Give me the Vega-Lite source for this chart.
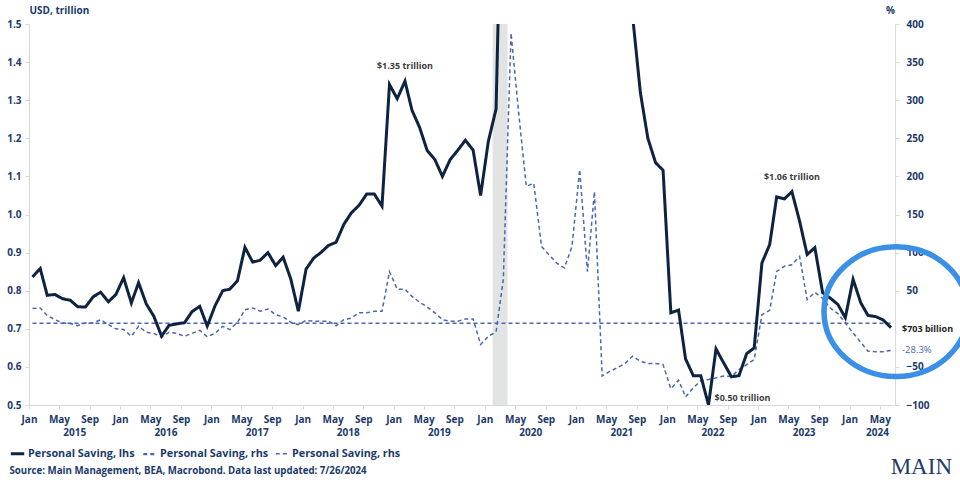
{
  "$schema": "https://vega.github.io/schema/vega-lite/v6.json",
  "width": 866,
  "height": 381,
  "autosize": {"type": "none"},
  "padding": {"left": 29, "top": 24, "right": 65, "bottom": 77},
  "background": "white",
  "title": {
    "text": "MAIN",
    "orient": "bottom",
    "anchor": "end",
    "frame": "group",
    "font": "Liberation Serif",
    "fontSize": 23,
    "fontWeight": "normal",
    "color": "#213a6b",
    "offset": 0,
    "dx": 57,
    "dy": -19
  },
  "config": {
    "font": "Open Sans",
    "view": {"stroke": null},
    "axis": {
      "labelFont": "Open Sans",
      "labelFontWeight": "bold",
      "labelFontSize": 10,
      "labelColor": "#213a6b",
      "labelOverlap": false,
      "domainColor": "#d9d9d9",
      "tickColor": "#d9d9d9",
      "tickSize": 4,
      "grid": false,
      "labelFlush": false,
      "titleFont": "Open Sans",
      "titleFontWeight": "bold",
      "titleColor": "#213a6b",
      "titleFontSize": 10
    },
    "axisX": {"labelOverlap": false},
    "axisY": {"labelOverlap": false},
    "legend": {
      "orient": "none",
      "legendX": -20,
      "legendY": 421,
      "direction": "horizontal",
      "title": null,
      "labelFont": "Open Sans",
      "labelFontWeight": "bold",
      "labelFontSize": 10.8,
      "labelColor": "#213a6b",
      "symbolType": "stroke",
      "symbolSize": 180,
      "labelOffset": 2,
      "columnPadding": 3
    }
  },
  "datasets": {
    "saving": [
      {"date": "2015-01-15", "lhs": 0.836, "rhs": 26.5},
      {"date": "2015-02-15", "lhs": 0.858, "rhs": 27.4},
      {"date": "2015-03-15", "lhs": 0.788, "rhs": 17.3},
      {"date": "2015-04-15", "lhs": 0.790, "rhs": 12},
      {"date": "2015-05-15", "lhs": 0.779, "rhs": 7.7},
      {"date": "2015-06-15", "lhs": 0.775, "rhs": 7},
      {"date": "2015-07-15", "lhs": 0.758, "rhs": 4.2},
      {"date": "2015-08-15", "lhs": 0.757, "rhs": 7.7},
      {"date": "2015-09-15", "lhs": 0.784, "rhs": 7.7},
      {"date": "2015-10-15", "lhs": 0.796, "rhs": 12},
      {"date": "2015-11-15", "lhs": 0.771, "rhs": 5.5},
      {"date": "2015-12-15", "lhs": 0.790, "rhs": 0},
      {"date": "2016-01-15", "lhs": 0.834, "rhs": -1},
      {"date": "2016-02-15", "lhs": 0.768, "rhs": -9.8},
      {"date": "2016-03-15", "lhs": 0.821, "rhs": 3.3},
      {"date": "2016-04-15", "lhs": 0.765, "rhs": -4.6},
      {"date": "2016-05-15", "lhs": 0.733, "rhs": -6},
      {"date": "2016-06-15", "lhs": 0.681, "rhs": -11},
      {"date": "2016-07-15", "lhs": 0.709, "rhs": -4.6},
      {"date": "2016-08-15", "lhs": 0.713, "rhs": -6},
      {"date": "2016-09-15", "lhs": 0.716, "rhs": -9.8},
      {"date": "2016-10-15", "lhs": 0.745, "rhs": -6},
      {"date": "2016-11-15", "lhs": 0.759, "rhs": -2},
      {"date": "2016-12-15", "lhs": 0.707, "rhs": -10.5},
      {"date": "2017-01-15", "lhs": 0.760, "rhs": -6},
      {"date": "2017-02-15", "lhs": 0.800, "rhs": 3.3},
      {"date": "2017-03-15", "lhs": 0.804, "rhs": -1},
      {"date": "2017-04-15", "lhs": 0.826, "rhs": 8.5},
      {"date": "2017-05-15", "lhs": 0.914, "rhs": 25},
      {"date": "2017-06-15", "lhs": 0.875, "rhs": 27.4},
      {"date": "2017-07-15", "lhs": 0.880, "rhs": 23},
      {"date": "2017-08-15", "lhs": 0.900, "rhs": 26},
      {"date": "2017-09-15", "lhs": 0.866, "rhs": 18.6},
      {"date": "2017-10-15", "lhs": 0.888, "rhs": 15.6},
      {"date": "2017-11-15", "lhs": 0.830, "rhs": 8.5},
      {"date": "2017-12-15", "lhs": 0.746, "rhs": 5.5},
      {"date": "2018-01-15", "lhs": 0.857, "rhs": 11},
      {"date": "2018-02-15", "lhs": 0.886, "rhs": 10},
      {"date": "2018-03-15", "lhs": 0.900, "rhs": 10},
      {"date": "2018-04-15", "lhs": 0.919, "rhs": 10},
      {"date": "2018-05-15", "lhs": 0.927, "rhs": 4},
      {"date": "2018-06-15", "lhs": 0.974, "rhs": 12},
      {"date": "2018-07-15", "lhs": 1.004, "rhs": 14},
      {"date": "2018-08-15", "lhs": 1.024, "rhs": 21},
      {"date": "2018-09-15", "lhs": 1.054, "rhs": 21},
      {"date": "2018-10-15", "lhs": 1.054, "rhs": 23},
      {"date": "2018-11-15", "lhs": 1.022, "rhs": 23},
      {"date": "2018-12-15", "lhs": 1.341, "rhs": 75},
      {"date": "2019-01-15", "lhs": 1.304, "rhs": 52},
      {"date": "2019-02-15", "lhs": 1.350, "rhs": 52},
      {"date": "2019-03-15", "lhs": 1.274, "rhs": 42.6},
      {"date": "2019-04-15", "lhs": 1.228, "rhs": 34.7},
      {"date": "2019-05-15", "lhs": 1.168, "rhs": 28.7},
      {"date": "2019-06-15", "lhs": 1.144, "rhs": 21},
      {"date": "2019-07-15", "lhs": 1.100, "rhs": 12},
      {"date": "2019-08-15", "lhs": 1.144, "rhs": 10},
      {"date": "2019-09-15", "lhs": 1.169, "rhs": 10},
      {"date": "2019-10-15", "lhs": 1.195, "rhs": 13},
      {"date": "2019-11-15", "lhs": 1.169, "rhs": 13},
      {"date": "2019-12-15", "lhs": 1.050, "rhs": -20.7},
      {"date": "2020-01-15", "lhs": 1.192, "rhs": -9.8},
      {"date": "2020-02-15", "lhs": 1.277, "rhs": -4},
      {"date": "2020-03-15", "lhs": 2.10, "rhs": 65},
      {"date": "2020-04-15", "lhs": 5.99, "rhs": 388},
      {"date": "2020-05-15", "lhs": 4.50, "rhs": 285},
      {"date": "2020-06-15", "lhs": 3.28, "rhs": 187},
      {"date": "2020-07-15", "lhs": 3.20, "rhs": 191},
      {"date": "2020-08-15", "lhs": 2.38, "rhs": 108},
      {"date": "2020-09-15", "lhs": 2.30, "rhs": 97},
      {"date": "2020-10-15", "lhs": 2.22, "rhs": 86},
      {"date": "2020-11-15", "lhs": 2.10, "rhs": 80},
      {"date": "2020-12-15", "lhs": 2.18, "rhs": 108},
      {"date": "2021-01-15", "lhs": 3.68, "rhs": 209},
      {"date": "2021-02-15", "lhs": 2.23, "rhs": 75},
      {"date": "2021-03-15", "lhs": 5.88, "rhs": 180},
      {"date": "2021-04-15", "lhs": 2.28, "rhs": -62},
      {"date": "2021-05-15", "lhs": 1.98, "rhs": -56},
      {"date": "2021-06-15", "lhs": 1.61, "rhs": -51},
      {"date": "2021-07-15", "lhs": 1.74, "rhs": -45.6},
      {"date": "2021-08-15", "lhs": 1.52, "rhs": -36},
      {"date": "2021-09-15", "lhs": 1.320, "rhs": -42.6},
      {"date": "2021-10-15", "lhs": 1.200, "rhs": -45.6},
      {"date": "2021-11-15", "lhs": 1.136, "rhs": -45.6},
      {"date": "2021-12-15", "lhs": 1.116, "rhs": -47},
      {"date": "2022-01-15", "lhs": 0.742, "rhs": -78.8},
      {"date": "2022-02-15", "lhs": 0.749, "rhs": -67.5},
      {"date": "2022-03-15", "lhs": 0.621, "rhs": -89.3},
      {"date": "2022-04-15", "lhs": 0.577, "rhs": -77.5},
      {"date": "2022-05-15", "lhs": 0.577, "rhs": -68},
      {"date": "2022-06-15", "lhs": 0.500, "rhs": -66.6},
      {"date": "2022-07-15", "lhs": 0.647, "rhs": -64.4},
      {"date": "2022-08-15", "lhs": 0.610, "rhs": -62},
      {"date": "2022-09-15", "lhs": 0.574, "rhs": -62.5},
      {"date": "2022-10-15", "lhs": 0.577, "rhs": -53.5},
      {"date": "2022-11-15", "lhs": 0.635, "rhs": -47},
      {"date": "2022-12-15", "lhs": 0.650, "rhs": -40.4},
      {"date": "2023-01-15", "lhs": 0.873, "rhs": 18.6},
      {"date": "2023-02-15", "lhs": 0.921, "rhs": 24.2},
      {"date": "2023-03-15", "lhs": 1.046, "rhs": 75.4},
      {"date": "2023-04-15", "lhs": 1.041, "rhs": 82},
      {"date": "2023-05-15", "lhs": 1.060, "rhs": 84},
      {"date": "2023-06-15", "lhs": 0.982, "rhs": 95},
      {"date": "2023-07-15", "lhs": 0.895, "rhs": 38.3},
      {"date": "2023-08-15", "lhs": 0.913, "rhs": 47.8},
      {"date": "2023-09-15", "lhs": 0.795, "rhs": 40},
      {"date": "2023-10-15", "lhs": 0.781, "rhs": 27.4},
      {"date": "2023-11-15", "lhs": 0.764, "rhs": 20},
      {"date": "2023-12-15", "lhs": 0.729, "rhs": 7.7},
      {"date": "2024-01-15", "lhs": 0.830, "rhs": -5.4},
      {"date": "2024-02-15", "lhs": 0.768, "rhs": -17.7},
      {"date": "2024-03-15", "lhs": 0.735, "rhs": -29.5},
      {"date": "2024-04-15", "lhs": 0.732, "rhs": -30},
      {"date": "2024-05-15", "lhs": 0.723, "rhs": -30},
      {"date": "2024-06-15", "lhs": 0.703, "rhs": -28.3}
    ],
    "average": [
      {"date": "2015-01-15", "rhs": 7.2},
      {"date": "2024-06-15", "rhs": 7.2}
    ],
    "notes": [
      {"date": "2019-02-15", "lhs": 1.35, "label": "$1.35 trillion", "kind": "peak"},
      {"date": "2023-05-15", "lhs": 1.06, "label": "$1.06 trillion", "kind": "peak"},
      {"date": "2022-06-15", "lhs": 0.50, "label": "$0.50 trillion", "kind": "low"},
      {"date": "2024-06-15", "lhs": 0.703, "label": "$703 billion", "kind": "last"},
      {"date": "2024-06-15", "rhs": -28.3, "label": "-28.3%", "kind": "yoy"}
    ],
    "recession": [
      {"date": "2020-02-01", "end": "2020-04-01"}
    ]
  },
  "encoding": {
    "x": {
      "field": "date",
      "type": "temporal",
      "scale": {"type": "utc", "domain": [{"year": 2015, "month": 1, "date": 1, "utc": true}, {"year": 2024, "month": 7, "date": 1, "utc": true}]},
      "axis": {
        "orient": "bottom",
        "values": [
          {"year": 2015, "month": 1, "date": 1, "utc": true}, {"year": 2015, "month": 5, "date": 1, "utc": true}, {"year": 2015, "month": 7, "date": 1, "utc": true}, {"year": 2015, "month": 9, "date": 1, "utc": true},
          {"year": 2016, "month": 1, "date": 1, "utc": true}, {"year": 2016, "month": 5, "date": 1, "utc": true}, {"year": 2016, "month": 7, "date": 1, "utc": true}, {"year": 2016, "month": 9, "date": 1, "utc": true},
          {"year": 2017, "month": 1, "date": 1, "utc": true}, {"year": 2017, "month": 5, "date": 1, "utc": true}, {"year": 2017, "month": 7, "date": 1, "utc": true}, {"year": 2017, "month": 9, "date": 1, "utc": true},
          {"year": 2018, "month": 1, "date": 1, "utc": true}, {"year": 2018, "month": 5, "date": 1, "utc": true}, {"year": 2018, "month": 7, "date": 1, "utc": true}, {"year": 2018, "month": 9, "date": 1, "utc": true},
          {"year": 2019, "month": 1, "date": 1, "utc": true}, {"year": 2019, "month": 5, "date": 1, "utc": true}, {"year": 2019, "month": 7, "date": 1, "utc": true}, {"year": 2019, "month": 9, "date": 1, "utc": true},
          {"year": 2020, "month": 1, "date": 1, "utc": true}, {"year": 2020, "month": 5, "date": 1, "utc": true}, {"year": 2020, "month": 7, "date": 1, "utc": true}, {"year": 2020, "month": 9, "date": 1, "utc": true},
          {"year": 2021, "month": 1, "date": 1, "utc": true}, {"year": 2021, "month": 5, "date": 1, "utc": true}, {"year": 2021, "month": 7, "date": 1, "utc": true}, {"year": 2021, "month": 9, "date": 1, "utc": true},
          {"year": 2022, "month": 1, "date": 1, "utc": true}, {"year": 2022, "month": 5, "date": 1, "utc": true}, {"year": 2022, "month": 7, "date": 1, "utc": true}, {"year": 2022, "month": 9, "date": 1, "utc": true},
          {"year": 2023, "month": 1, "date": 1, "utc": true}, {"year": 2023, "month": 5, "date": 1, "utc": true}, {"year": 2023, "month": 7, "date": 1, "utc": true}, {"year": 2023, "month": 9, "date": 1, "utc": true},
          {"year": 2024, "month": 1, "date": 1, "utc": true}, {"year": 2024, "month": 4, "date": 20, "utc": true}, {"year": 2024, "month": 5, "date": 1, "utc": true}
        ],
        "labelExpr": "utcdate(datum.value) != 1 || utcmonth(datum.value) == 6 ? ['', utcFormat(datum.value, '%Y')] : utcFormat(datum.value, '%b')",
        "labelLineHeight": 13,
        "labelOverlap": false,
        "labelPadding": 5,
        "labelBaseline": "top",
        "tickOpacity": {"condition": {"test": "utcdate(datum.value) != 1 || utcmonth(datum.value) == 6", "value": 0}, "value": 1},
        "title": "Source: Main Management, BEA, Macrobond. Data last updated: 7/26/2024",
        "titleX": -20,
        "titleY": 68,
        "titleAlign": "left",
        "titleAnchor": "start",
        "titleBaseline": "alphabetic",
        "titleFontSize": 9.7
      }
    }
  },
  "layer": [
    {
      "data": {"name": "recession"},
      "mark": {"type": "rect", "color": "#e2e3e3"},
      "encoding": {
        "x2": {"field": "end"}
      }
    },
    {
      "encoding": {
        "y": {
          "field": "rhs",
          "type": "quantitative",
          "scale": {"domain": [-100, 400], "nice": false, "zero": false},
          "axis": {
            "orient": "right",
            "values": [-100, -50, 50, 100, 150, 200, 250, 300, 350, 400],
            "labelOverlap": false,
            "labelPadding": 7,
            "title": "%",
            "titleAngle": 0,
            "titleX": -5,
            "titleY": -14,
            "titleAlign": "center",
            "titleBaseline": "middle"
          }
        }
      },
      "layer": [
        {
          "data": {"name": "saving"},
          "mark": {"type": "line", "strokeWidth": 1.5, "clip": true},
          "encoding": {
            "color": {
              "datum": "rhs", "type": "nominal",
              "scale": {"domain": ["lhs", "rhs", "avg"], "range": ["#0d2341", "#4a67ad", "#4a67ad"]},
              "legend": {"labelExpr": "datum.value == 'lhs' ? 'Personal Saving, lhs' : 'Personal Saving, rhs'"}
            },
            "strokeDash": {
              "datum": "rhs", "type": "nominal",
              "scale": {"domain": ["lhs", "rhs", "avg"], "range": [[1, 0], [4, 3], [4, 3]]},
              "legend": {"labelExpr": "datum.value == 'lhs' ? 'Personal Saving, lhs' : 'Personal Saving, rhs'"}
            },
            "strokeWidth": {
              "datum": "rhs", "type": "nominal",
              "scale": {"domain": ["lhs", "rhs", "avg"], "range": [3, 1.5, 1.5]},
              "legend": {"labelExpr": "datum.value == 'lhs' ? 'Personal Saving, lhs' : 'Personal Saving, rhs'"}
            }
          }
        },
        {
          "data": {"name": "average"},
          "mark": {"type": "line", "strokeWidth": 1.5},
          "encoding": {
            "color": {"datum": "avg", "type": "nominal"},
            "strokeDash": {"datum": "avg", "type": "nominal"},
            "strokeWidth": {"datum": "avg", "type": "nominal"}
          }
        },
        {
          "data": {"name": "notes"},
          "transform": [{"filter": "datum.kind == 'yoy'"}],
          "mark": {"type": "text", "align": "left", "baseline": "middle", "dx": 11, "dy": 0, "fontSize": 9.5, "color": "#4a67ad"},
          "encoding": {
            "text": {"field": "label"}
          }
        }
      ]
    },
    {
      "encoding": {
        "y": {
          "field": "lhs",
          "type": "quantitative",
          "scale": {"domain": [0.5, 1.5], "nice": false, "zero": false},
          "axis": {
            "orient": "left",
            "values": [0.5, 0.6, 0.7, 0.8, 0.9, 1.0, 1.1, 1.2, 1.3, 1.4, 1.5],
            "format": ".1f",
            "labelOverlap": false,
            "labelPadding": 4,
            "title": "USD, trillion",
            "titleAngle": 0,
            "titleX": 0,
            "titleY": -14,
            "titleAlign": "left",
            "titleBaseline": "middle"
          }
        }
      },
      "layer": [
        {
          "data": {"name": "saving"},
          "mark": {"type": "line", "strokeWidth": 3, "clip": true},
          "encoding": {
            "color": {"datum": "lhs", "type": "nominal"},
            "strokeDash": {"datum": "lhs", "type": "nominal"},
            "strokeWidth": {"datum": "lhs", "type": "nominal"}
          }
        },
        {
          "data": {"name": "notes"},
          "transform": [{"filter": "datum.kind == 'peak'"}],
          "mark": {"type": "text", "align": "center", "baseline": "middle", "dy": -15, "fontSize": 9, "fontWeight": "bold", "color": "#3d3d3d"},
          "encoding": {
            "text": {"field": "label"}
          }
        },
        {
          "data": {"name": "notes"},
          "transform": [{"filter": "datum.kind == 'low'"}],
          "mark": {"type": "text", "align": "left", "baseline": "middle", "dx": 6, "dy": -7, "fontSize": 9, "fontWeight": "bold", "color": "#3d3d3d"},
          "encoding": {
            "text": {"field": "label"}
          }
        },
        {
          "data": {"name": "notes"},
          "transform": [{"filter": "datum.kind == 'last'"}],
          "mark": {"type": "text", "align": "left", "baseline": "middle", "dx": 11, "dy": 1, "fontSize": 9, "fontWeight": "bold", "color": "#222222"},
          "encoding": {
            "text": {"field": "label"}
          }
        },
        {
          "data": {"name": "notes"},
          "transform": [{"filter": "datum.kind == 'last'"}],
          "mark": {
            "type": "point",
            "shape": "M -1 0 A 1 0.9 0 1 0 1 0 A 1 0.9 0 1 0 -1 0 Z",
            "size": 20736,
            "filled": false,
            "stroke": "#3a8fe6",
            "strokeWidth": 5.5,
            "opacity": 1,
            "xOffset": 5,
            "yOffset": -16
          }
        }
      ]
    }
  ],
  "resolve": {"scale": {"y": "independent"}}
}
